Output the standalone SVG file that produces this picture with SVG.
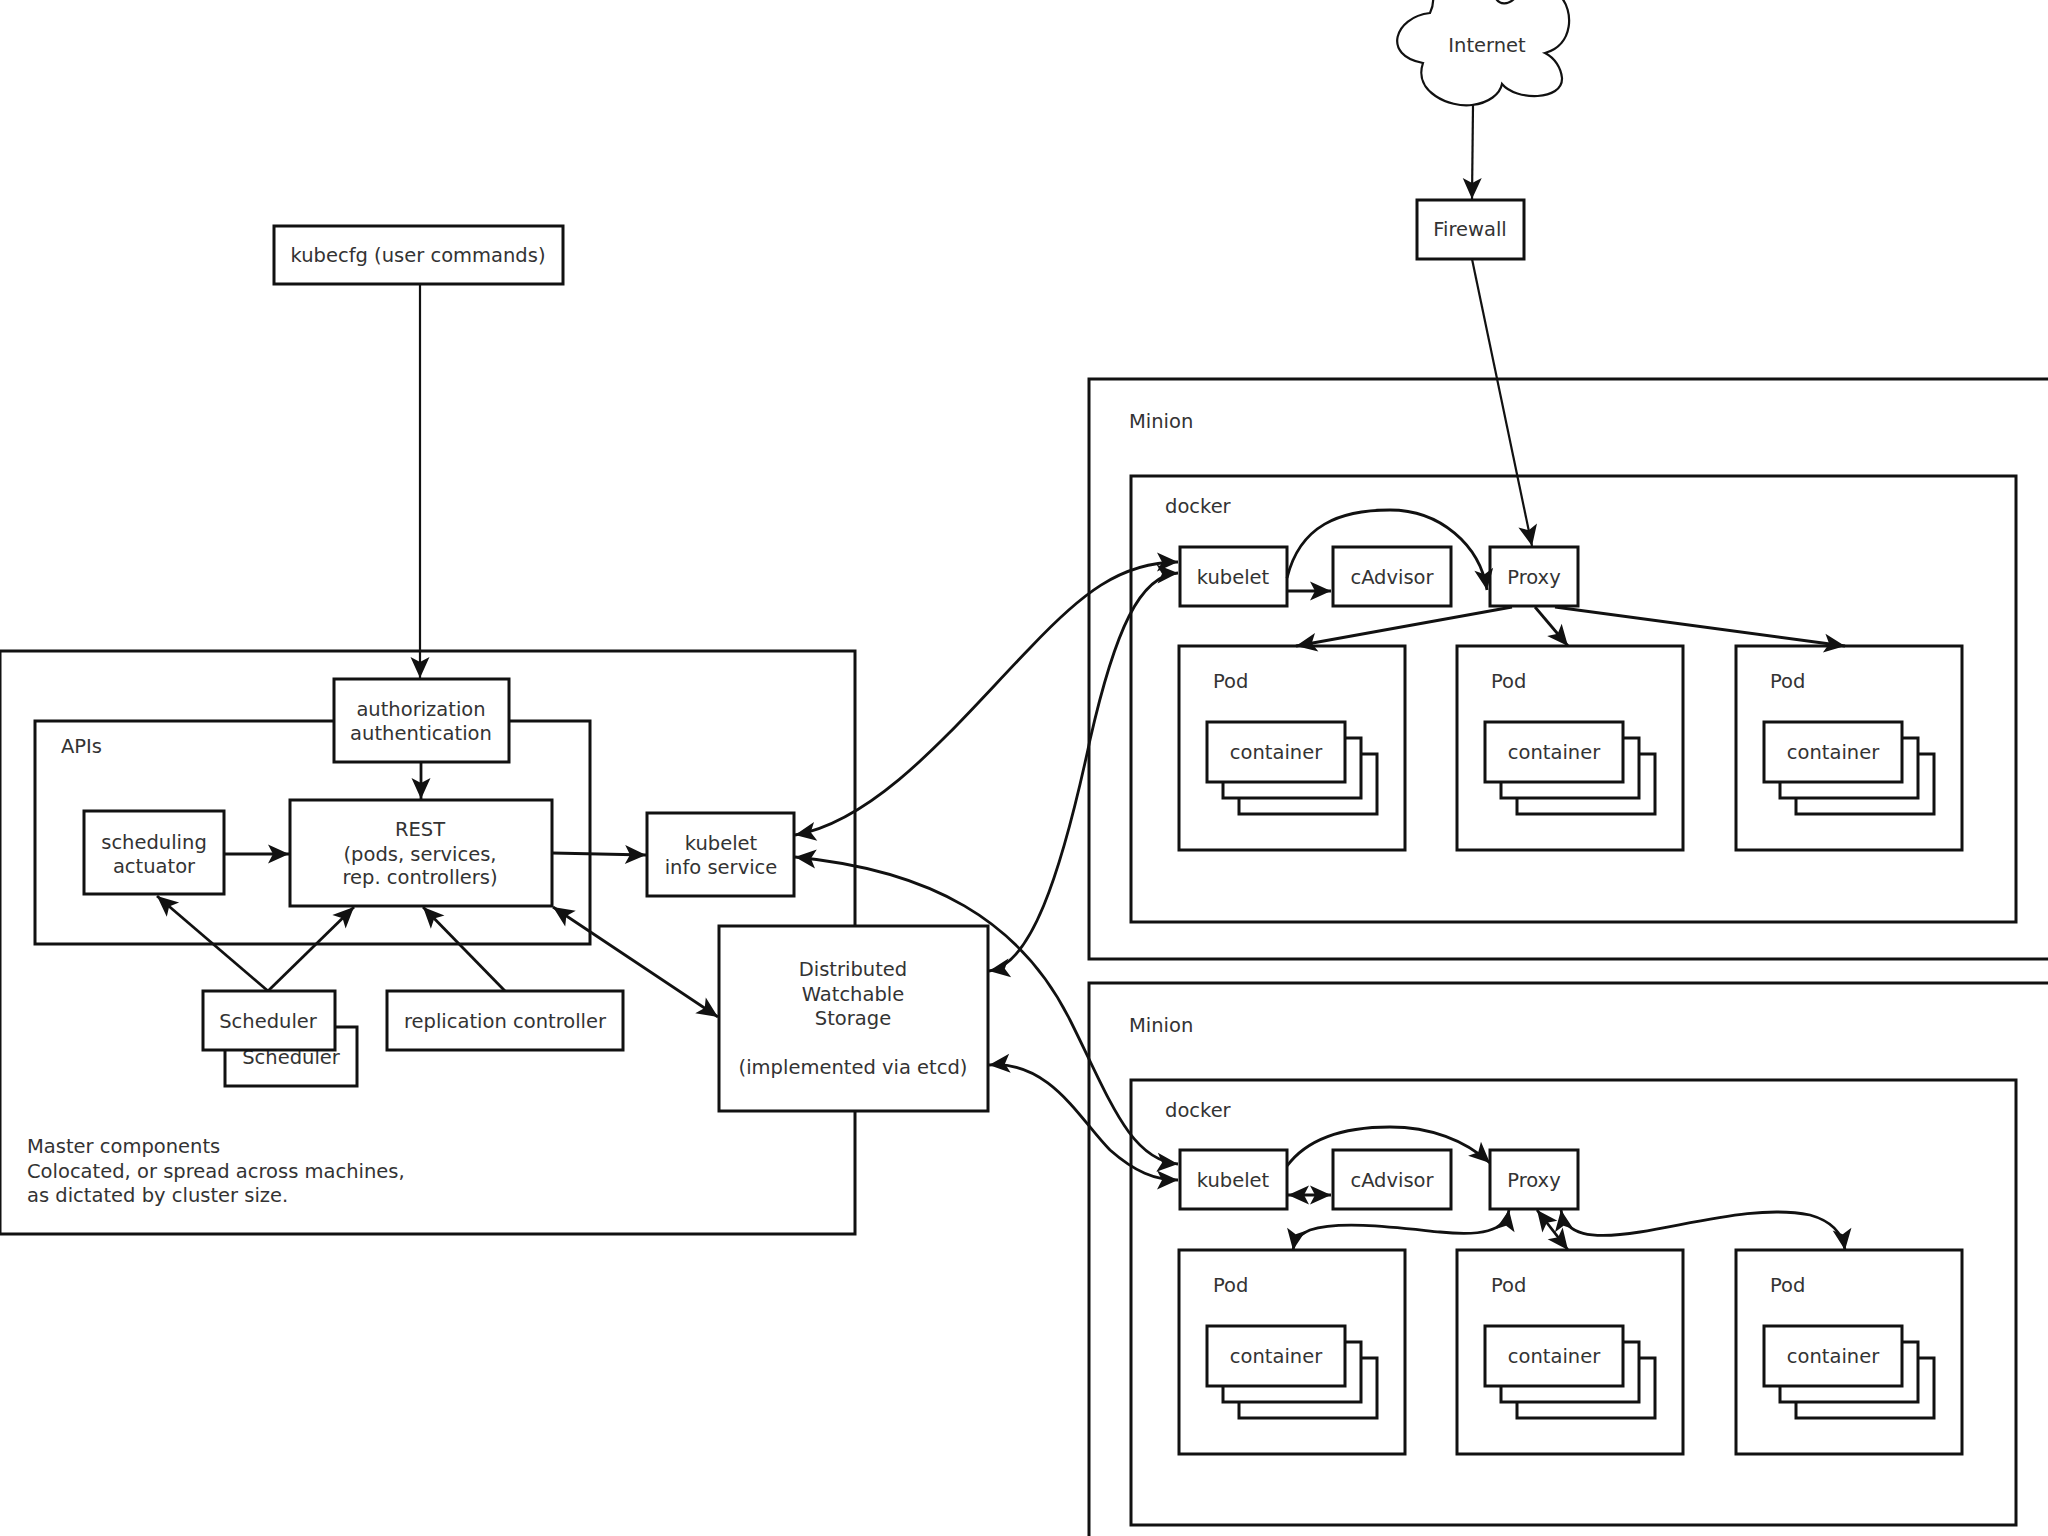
<svg xmlns="http://www.w3.org/2000/svg" width="2048" height="1536" viewBox="0 0 2048 1536">
<style>
text{font-family:"DejaVu Sans","Liberation Sans",sans-serif;font-size:19.5px;fill:#333}
.c{text-anchor:middle}
.box{fill:#fff;stroke:#111;stroke-width:3}
.frame{fill:none;stroke:#111;stroke-width:3}
.ln{fill:none;stroke:#111;stroke-width:2.8}
.thin{fill:none;stroke:#111;stroke-width:2.2}
</style>
<defs>
<marker id="ah" viewBox="-23 -11 25 22" refX="0" refY="0" markerWidth="25" markerHeight="22" markerUnits="userSpaceOnUse" orient="auto-start-reverse">
<path d="M0,0 L-21,-9.5 L-16,0 L-21,9.5 Z" fill="#111"/>
</marker>
<g id="podtpl">
<rect class="box" x="0" y="0" width="226" height="204"/>
<text x="34" y="42">Pod</text>
<rect class="box" x="60" y="108" width="138" height="60"/>
<rect class="box" x="44" y="92" width="138" height="60"/>
<rect class="box" x="28" y="76" width="138" height="60"/>
<text class="c" x="97" y="113">container</text>
</g>
</defs>
<rect width="2048" height="1536" fill="#fff"/>

<!-- containers / frames -->
<g id="master">
<rect class="frame" x="0" y="651" width="855" height="583"/>
<text x="27" y="1153">Master components</text>
<text x="27" y="1178">Colocated, or spread across machines,</text>
<text x="27" y="1202">as dictated by cluster size.</text>
</g>
<g id="apis">
<rect class="frame" x="35" y="721" width="555" height="223"/>
<text x="61" y="753">APIs</text>
</g>
<g id="minion1">
<rect class="frame" x="1089" y="379" width="1000" height="580"/>
<text x="1129" y="428">Minion</text>
</g>
<g id="docker1">
<rect class="frame" x="1131" y="476" width="885" height="446"/>
<text x="1165" y="513">docker</text>
</g>
<g id="minion2">
<rect class="frame" x="1089" y="983" width="1000" height="620"/>
<text x="1129" y="1032">Minion</text>
</g>
<g id="docker2">
<rect class="frame" x="1131" y="1080" width="885" height="445"/>
<text x="1165" y="1117">docker</text>
</g>

<!-- nodes -->
<g id="internet">
<path class="thin" d="M1433 -5 C1434 4 1432 9 1430 13 C1394 17 1382 56 1423 63 C1413 92 1450 108 1472 105 C1489 103 1500 94 1502 84 C1516 101 1563 101 1562 78 C1561 68 1555 58 1545 53 C1574 45 1574 10 1560 -4" stroke-width="2.8"/>
<path class="thin" d="M1495 -3 C1499 5 1508 6 1516 -3" stroke-width="2.8"/>
<text class="c" x="1487" y="52">Internet</text>
</g>
<g id="firewall">
<rect class="box" x="1417" y="200" width="107" height="59"/>
<text class="c" x="1470" y="236">Firewall</text>
</g>
<g id="kubecfg">
<rect class="box" x="274" y="226" width="289" height="58"/>
<text class="c" x="418" y="262">kubecfg (user commands)</text>
</g>
<g id="auth">
<rect class="box" x="334" y="679" width="175" height="83"/>
<text class="c" x="421" y="716">authorization</text>
<text class="c" x="421" y="740">authentication</text>
</g>
<g id="rest">
<rect class="box" x="290" y="800" width="262" height="106"/>
<text class="c" x="420" y="836">REST</text>
<text class="c" x="420" y="861">(pods, services,</text>
<text class="c" x="420" y="884">rep. controllers)</text>
</g>
<g id="actuator">
<rect class="box" x="84" y="811" width="140" height="83"/>
<text class="c" x="154" y="849">scheduling</text>
<text class="c" x="154" y="873">actuator</text>
</g>
<g id="kubeletinfo">
<rect class="box" x="647" y="813" width="147" height="83"/>
<text class="c" x="721" y="850">kubelet</text>
<text class="c" x="721" y="874">info service</text>
</g>
<g id="scheduler">
<rect class="box" x="225" y="1027" width="132" height="59"/>
<text class="c" x="291" y="1064">Scheduler</text>
<rect class="box" x="203" y="991" width="132" height="59"/>
<text class="c" x="268" y="1028">Scheduler</text>
</g>
<g id="replication">
<rect class="box" x="387" y="991" width="236" height="59"/>
<text class="c" x="505" y="1028">replication controller</text>
</g>
<g id="storage">
<rect class="box" x="719" y="926" width="269" height="185"/>
<text class="c" x="853" y="976">Distributed</text>
<text class="c" x="853" y="1001">Watchable</text>
<text class="c" x="853" y="1025">Storage</text>
<text class="c" x="853" y="1074">(implemented via etcd)</text>
</g>

<g id="kubelet1">
<rect class="box" x="1180" y="547" width="107" height="59"/>
<text class="c" x="1233" y="584">kubelet</text>
</g>
<g id="cadvisor1">
<rect class="box" x="1333" y="547" width="118" height="59"/>
<text class="c" x="1392" y="584">cAdvisor</text>
</g>
<g id="proxy1">
<rect class="box" x="1490" y="547" width="88" height="59"/>
<text class="c" x="1534" y="584">Proxy</text>
</g>
<g id="pod1a" transform="translate(1179,646)"><use href="#podtpl"/></g>
<g id="pod1b" transform="translate(1457,646)"><use href="#podtpl"/></g>
<g id="pod1c" transform="translate(1736,646)"><use href="#podtpl"/></g>

<g id="kubelet2">
<rect class="box" x="1180" y="1150" width="107" height="59"/>
<text class="c" x="1233" y="1187">kubelet</text>
</g>
<g id="cadvisor2">
<rect class="box" x="1333" y="1150" width="118" height="59"/>
<text class="c" x="1392" y="1187">cAdvisor</text>
</g>
<g id="proxy2">
<rect class="box" x="1490" y="1150" width="88" height="59"/>
<text class="c" x="1534" y="1187">Proxy</text>
</g>
<g id="pod2a" transform="translate(1179,1250)"><use href="#podtpl"/></g>
<g id="pod2b" transform="translate(1457,1250)"><use href="#podtpl"/></g>
<g id="pod2c" transform="translate(1736,1250)"><use href="#podtpl"/></g>

<!-- connectors -->
<g id="connectors">
<path class="thin" marker-end="url(#ah)" d="M420 285 L420 678"/>
<path class="ln" marker-end="url(#ah)" d="M421 762 L421 799"/>
<path class="ln" marker-end="url(#ah)" d="M224 854 L289 854"/>
<path class="ln" marker-end="url(#ah)" d="M552 853 L646 855"/>
<path class="ln" marker-end="url(#ah)" d="M268 991 L157 896"/>
<path class="ln" marker-end="url(#ah)" d="M268 991 L354 907"/>
<path class="ln" marker-end="url(#ah)" d="M505 991 L423 907"/>
<path class="ln" marker-start="url(#ah)" marker-end="url(#ah)" d="M553 907 L718 1017"/>
<path class="ln" marker-start="url(#ah)" marker-end="url(#ah)" d="M795 835 C880 820 960 720 1030 648 C1080 595 1120 562 1178 562"/>
<path class="ln" marker-start="url(#ah)" marker-end="url(#ah)" d="M795 857 C930 870 1020 920 1070 1020 C1110 1100 1130 1160 1178 1164"/>
<path class="ln" marker-start="url(#ah)" marker-end="url(#ah)" d="M989 971 C1030 965 1060 880 1090 740 C1115 630 1140 575 1178 573"/>
<path class="ln" marker-start="url(#ah)" marker-end="url(#ah)" d="M989 1065 C1050 1060 1080 1120 1110 1150 C1135 1172 1155 1180 1178 1180"/>
<path class="thin" marker-end="url(#ah)" d="M1473 105 L1472 199"/>
<path class="thin" marker-end="url(#ah)" d="M1472 259 L1532 546"/>
<path class="ln" marker-end="url(#ah)" d="M1287 591 L1331 591"/>
<path class="ln" marker-end="url(#ah)" d="M1287 578 C1300 525 1340 510 1390 510 C1440 510 1480 545 1487 590"/>
<path class="ln" marker-end="url(#ah)" d="M1512 607 L1296 646"/>
<path class="ln" marker-end="url(#ah)" d="M1535 607 L1568 646"/>
<path class="ln" marker-end="url(#ah)" d="M1555 607 L1845 646"/>
<path class="ln" marker-start="url(#ah)" marker-end="url(#ah)" d="M1288 1195 L1331 1195"/>
<path class="ln" marker-end="url(#ah)" d="M1287 1166 C1310 1135 1350 1127 1390 1127 C1430 1127 1465 1140 1490 1163"/>
<path class="ln" marker-start="url(#ah)" marker-end="url(#ah)" d="M1509 1210 C1505 1232 1480 1236 1440 1232 C1400 1228 1340 1220 1310 1230 C1296 1236 1294 1244 1293 1250"/>
<path class="ln" marker-start="url(#ah)" marker-end="url(#ah)" d="M1537 1210 L1568 1250"/>
<path class="ln" marker-start="url(#ah)" marker-end="url(#ah)" d="M1561 1210 C1565 1235 1590 1240 1640 1232 C1700 1222 1760 1205 1810 1215 C1835 1222 1843 1236 1845 1250"/>
</g>
</svg>
